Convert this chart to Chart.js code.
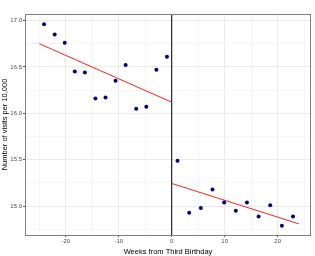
<!DOCTYPE html>
<html>
<head>
<meta charset="utf-8">
<script src="https://cdn.jsdelivr.net/npm/chart.js@4/dist/chart.umd.min.js"></script>
<style>
  html, body { margin: 0; padding: 0; background: #fff; }
  #wrap { width: 315px; height: 256px; }
</style>
</head>
<body>
<div id="wrap"><canvas id="rd"></canvas></div>
<script>
// punkter foer og etter tredje bursdag
var ukerFoer = [-24.1, -22.1, -20.2, -18.3, -16.4, -14.4, -12.5, -10.6, -8.7, -6.7, -4.8, -2.9, -0.9];
var besokFoer = [16.96, 16.85, 16.76, 16.45, 16.44, 16.16, 16.17, 16.35, 16.52, 16.05, 16.07, 16.47, 16.61];
var ukerEtter = [1.1, 3.3, 5.5, 7.7, 9.9, 12.1, 14.2, 16.4, 18.6, 20.8, 22.9];
var besokEtter = [15.49, 14.93, 14.98, 15.18, 15.04, 14.95, 15.04, 14.89, 15.01, 14.79, 14.89];

// regresjonslinjer (endepunkter)
var linjeFoerX = [-25, 0];
var linjeFoerY = [16.75, 16.12];
var linjeEtterX = [0, 24];
var linjeEtterY = [15.245, 14.81];

// akser
var xMin = -27.7, xMax = 26.3;
var yMin = 14.69, yMax = 17.07;
var xTicks = [-25, -20, -15, -10, -5, 0, 5, 10, 15, 20, 25];
var yTicks = [14.75, 15.0, 15.25, 15.5, 15.75, 16.0, 16.25, 16.5, 16.75, 17.0];

function par(xs, ys) {
  return xs.map(function (x, i) { return { x: x, y: ys[i] }; });
}

function erHoved(v, steg) {
  return Math.abs(v / steg - Math.round(v / steg)) < 1e-6;
}

// ramme rundt panelet
var ramme = {
  id: "ramme",
  afterDraw: function (chart) {
    var a = chart.chartArea, c = chart.ctx;
    c.save();
    c.strokeStyle = "#7f7f7f";
    c.lineWidth = 1;
    c.strokeRect(a.left + 0.5, a.top + 0.5, a.right - a.left - 1, a.bottom - a.top);
    c.restore();
  }
};

new Chart("rd", {
  type: "scatter",
  data: {
    datasets: [
      {
        data: par(ukerFoer, besokFoer).concat(par(ukerEtter, besokEtter)),
        backgroundColor: "#00007f",
        borderColor: "#00007f",
        pointRadius: 2,
        borderWidth: 0,
        order: 0
      },
      {
        type: "line",
        data: par(linjeFoerX, linjeFoerY),
        borderColor: "#ff2020",
        borderWidth: 1,
        pointRadius: 0,
        order: 1
      },
      {
        type: "line",
        data: par(linjeEtterX, linjeEtterY),
        borderColor: "#ff2020",
        borderWidth: 1,
        pointRadius: 0,
        order: 1
      },
      {
        type: "line",
        data: par([0, 0], [yMin, yMax]),
        borderColor: "#000",
        borderWidth: 1,
        pointRadius: 0,
        order: 2
      }
    ]
  },
  options: {
    responsive: true,
    maintainAspectRatio: false,
    animation: false,
    layout: { padding: { top: 14, right: 4, left: 0, bottom: 0 } },
    plugins: { legend: { display: false }, tooltip: { enabled: false } },
    scales: {
      x: {
        type: "linear",
        min: xMin,
        max: xMax,
        afterBuildTicks: function (ax) { ax.ticks = xTicks.map(function (v) { return { value: v }; }); },
        afterFit: function (ax) { ax.height = 21; },
        border: { display: false },
        grid: {
          color: function (ctx) { return erHoved(ctx.tick.value, 10) ? "#ebebeb" : "#f5f5f5"; },
          lineWidth: 1,
          tickLength: 2,
          tickColor: function (ctx) { return erHoved(ctx.tick.value, 10) ? "#555" : "rgba(0,0,0,0)"; }
        },
        ticks: {
          autoSkip: false,
          maxRotation: 0,
          padding: 1,
          color: "#4d4d4d",
          font: { family: "Liberation Sans", size: 6 },
          callback: function (v) { return erHoved(v, 10) ? String(v) : ""; }
        },
        title: {
          display: true,
          text: "Weeks from Third Birthday",
          color: "#000",
          font: { family: "Liberation Sans", size: 7.5 },
          padding: { top: 0, bottom: 0 }
        }
      },
      y: {
        type: "linear",
        min: yMin,
        max: yMax,
        afterBuildTicks: function (ax) { ax.ticks = yTicks.map(function (v) { return { value: v }; }); },
        afterFit: function (ax) { ax.width = 25; },
        border: { display: false },
        grid: {
          color: function (ctx) { return erHoved(ctx.tick.value, 0.5) ? "#ebebeb" : "#f5f5f5"; },
          lineWidth: 1,
          tickLength: 2,
          tickColor: function (ctx) { return erHoved(ctx.tick.value, 0.5) ? "#555" : "rgba(0,0,0,0)"; }
        },
        ticks: {
          autoSkip: false,
          padding: 1,
          color: "#4d4d4d",
          font: { family: "Liberation Sans", size: 6 },
          callback: function (v) { return erHoved(v, 0.5) ? v.toFixed(1) : ""; }
        },
        title: {
          display: true,
          text: "Number of visits per 10,000",
          color: "#000",
          font: { family: "Liberation Sans", size: 7.5 },
          padding: { top: 0, bottom: 0 }
        }
      }
    }
  },
  plugins: [ramme]
});
</script>
</body>
</html>
